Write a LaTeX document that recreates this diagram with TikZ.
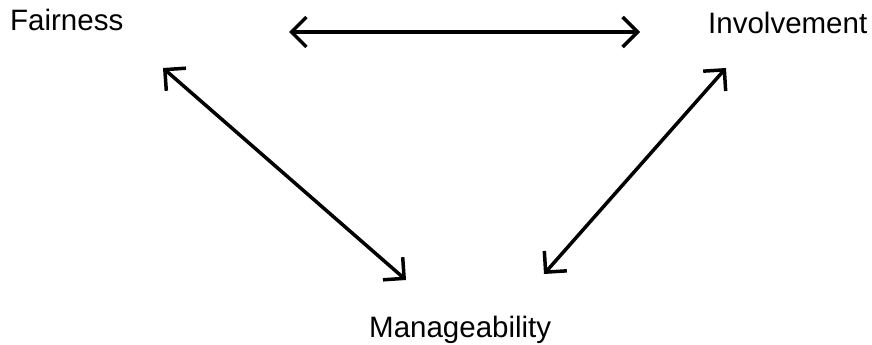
\documentclass[tikz,border=0pt]{standalone}
\usepackage{fontspec}
\setmainfont{Liberation Sans}
\usepackage{tikz}
\usetikzlibrary{arrows.meta}

\begin{document}
\begin{tikzpicture}[
      x=1pt, y=-1pt,
      label/.style={anchor=base west, inner sep=0pt, font=\fontsize{29.5}{35}\selectfont},
      link/.style={{Straight Barb[length=15pt,width=30pt,line width=3.5pt]}-{Straight Barb[length=15pt,width=30pt,line width=3.5pt]},
                   line width=3.5pt, line cap=round},
    ]
      \useasboundingbox (0,0) rectangle (872,345);
      % the three labels
      \node[label] (fair) at (10,31) {Fairness};
      \node[label] (inv) at (708,34) {Involvement};
      \node[label] (man) at (369,337) {Manageability};
      % arrow ends
      \coordinate (fairR) at (289,32);
      \coordinate (invL) at (640,32);
      \coordinate (fairD) at (163,68);
      \coordinate (manL) at (406,280);
      \coordinate (invD) at (726,68);
      \coordinate (manR) at (544,274);
      \draw[link] (fairR) -- (invL);
      \draw[link] (fairD) -- (manL);
      \draw[link] (invD) -- (manR);
\end{tikzpicture}
\end{document}
